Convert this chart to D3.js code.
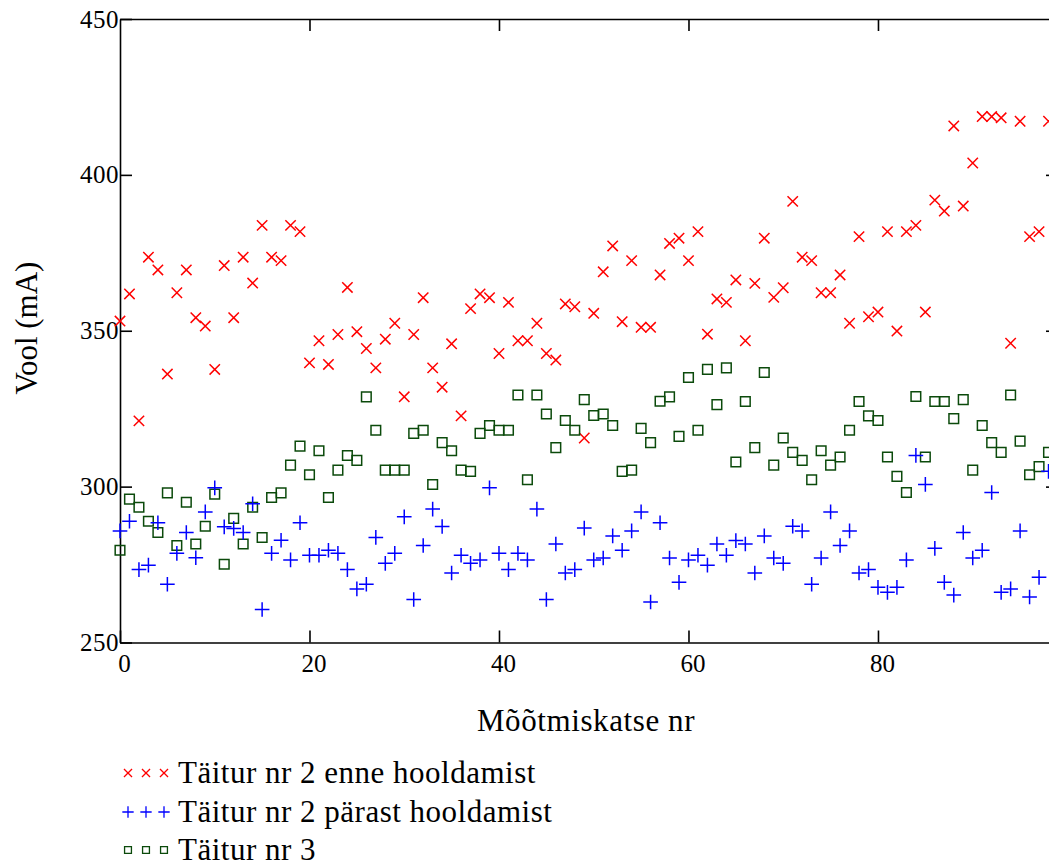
<!DOCTYPE html>
<html>
<head>
<meta charset="utf-8">
<script src="https://cdn.jsdelivr.net/npm/d3@7"></script>
<style>
  body { margin: 0; background: #fff; }
  svg { display: block; }
  text { font-family: "Liberation Serif", "Times New Roman", serif; fill: #000; }
</style>
</head>
<body>
<div id="chart"></div>
<script>
// measurement values (mA), one per trial index 0..98
var enneHooldamist = [
  353.1,361.8,321.1,373.6,369.5,336.1,362.2,369.5,354.2,351.5,
  337.6,370.9,354.2,373.6,365.3,383.8,373.6,372.5,383.8,381.8,
  339.7,346.8,339.2,348.8,363.9,349.7,344.3,338.1,347.3,352.4,
  328.8,348.8,360.6,338.1,331.9,345.8,322.7,357.1,361.8,360.6,
  342.7,359.1,346.8,346.8,352.4,342.7,340.6,358.6,357.7,315.6,
  355.6,368.9,377.2,352.9,372.5,351.1,351.1,367.9,378.0,379.7,
  372.5,381.8,348.9,360.2,359.1,366.3,346.8,365.2,379.7,360.7,
  363.8,391.5,373.6,372.5,362.2,362.2,367.9,352.4,380.2,354.5,
  356.0,381.8,349.9,381.8,383.8,356.0,391.9,388.4,415.7,390.0,
  403.8,418.7,418.7,418.3,346.0,417.2,380.2,381.8,417.2
];
var parastHooldamist = [
  285.8,288.9,273.4,274.8,288.4,268.7,278.6,285.3,277.2,291.9,
  299.6,287.1,286.6,285.3,294.5,260.6,278.6,282.8,276.5,288.4,
  278.0,278.0,279.6,278.6,273.4,267.2,268.7,283.7,275.4,278.6,
  290.3,263.8,281.1,292.8,287.2,272.3,278.0,275.4,276.5,299.6,
  278.6,273.4,278.6,276.5,292.8,263.8,281.6,272.3,273.4,286.7,
  276.5,277.1,284.2,279.6,285.8,291.9,263.0,288.4,277.1,269.3,
  276.5,278.0,274.8,281.6,278.0,282.7,281.6,272.3,284.2,277.1,
  275.4,287.3,285.8,268.7,277.1,291.9,281.1,285.8,272.3,273.4,
  267.7,266.1,267.7,276.5,310.0,300.7,280.2,269.3,265.2,285.3,
  277.1,279.6,298.1,266.1,267.2,285.8,264.6,270.9,304.9
];
var taitur3 = [
  279.6,296.0,293.4,288.9,285.3,298.0,281.1,295.0,281.6,287.3,
  297.6,275.1,289.8,281.6,293.4,283.7,296.5,298.0,306.9,313.0,
  303.8,311.5,296.5,305.3,310.0,308.4,328.8,318.1,305.3,305.3,
  305.3,317.1,318.1,300.7,314.1,311.5,305.3,304.9,317.1,319.6,
  318.1,318.1,329.4,302.2,329.4,323.3,312.5,321.2,318.1,327.9,
  322.8,323.3,319.6,304.9,305.3,318.7,314.1,327.4,328.8,316.1,
  335.0,318.1,337.6,326.3,338.1,307.9,327.3,312.5,336.6,306.9,
  315.6,311.0,308.4,302.2,311.5,306.9,309.5,318.1,327.3,322.7,
  321.2,309.5,303.3,298.1,328.9,309.5,327.3,327.3,321.8,327.9,
  305.3,319.6,314.1,311.0,329.4,314.6,303.8,306.4,311.0
];
var xTicks = [0, 20, 40, 60, 80];
var yTicks = [250, 300, 350, 400, 450];
var legendLabels = ["Täitur nr 2 enne hooldamist", "Täitur nr 2 pärast hooldamist", "Täitur nr 3"];

(function() {
  var width = 1049, height = 867;
  var plotLeft = 120, plotTop = 19, plotRight = 1058, plotBottom = 642.5;

  var svg = d3.select("#chart").append("svg")
      .attr("width", width).attr("height", height);

  var x = d3.scaleLinear().domain([0, 99]).range([plotLeft, plotRight]);
  var y = d3.scaleLinear().domain([250, 450]).range([plotBottom, plotTop]);

  // frame with inward ticks on all four sides
  var gx = svg.append("g").attr("transform", "translate(0," + plotBottom + ")")
      .call(d3.axisBottom(x).tickValues(xTicks).tickSizeInner(-12).tickSizeOuter(0).tickPadding(12));
  var gy = svg.append("g").attr("transform", "translate(" + plotLeft + ",0)")
      .call(d3.axisLeft(y).tickValues(yTicks).tickSizeInner(-12).tickSizeOuter(0).tickPadding(1));
  svg.append("g").attr("transform", "translate(0," + plotTop + ")")
      .call(d3.axisTop(x).tickValues(xTicks.slice(1)).tickSizeInner(-12).tickSizeOuter(0).tickFormat(""));
  svg.append("g").attr("transform", "translate(" + plotRight + ",0)")
      .call(d3.axisRight(y).tickValues(yTicks.slice(1, 4)).tickSizeInner(-12).tickSizeOuter(0).tickFormat(""));

  svg.selectAll(".domain, .tick line").attr("stroke", "#000").attr("stroke-width", 1.6);
  gx.selectAll("text").attr("font-size", 25).attr("dx", 4);
  gy.selectAll("text").attr("font-size", 25).attr("letter-spacing", 0.5);

  // axis titles
  svg.append("text").attr("x", 586).attr("y", 731).attr("text-anchor", "middle")
      .attr("font-size", 31).attr("letter-spacing", 0.6).text("Mõõtmiskatse nr");
  svg.append("text").attr("transform", "translate(37,328) rotate(-90)")
      .attr("text-anchor", "middle").attr("font-size", 31).text("Vool (mA)");

  var series = [
    { values: enneHooldamist, color: "#ff0000", type: d3.symbolTimes, size: 72 },
    { values: taitur3, color: "#0b4a0b", type: d3.symbolSquare2, size: 118 },
    { values: parastHooldamist, color: "#0000ff", type: d3.symbolPlus, size: 72 }
  ];

  series.forEach(function(s) {
    svg.append("g").selectAll("path")
      .data(s.values)
      .join("path")
      .attr("d", d3.symbol().type(s.type).size(s.size))
      .attr("transform", function(d, i) { return "translate(" + x(i) + "," + y(d) + ")"; })
      .attr("fill", "none")
      .attr("stroke", s.color)
      .attr("stroke-width", 1.5);
  });

  // legend
  var legendItems = [
    { label: legendLabels[0], color: "#ff0000", type: d3.symbolTimes, size: 44 },
    { label: legendLabels[1], color: "#0000ff", type: d3.symbolPlus, size: 44 },
    { label: legendLabels[2], color: "#0b4a0b", type: d3.symbolSquare2, size: 60 }
  ];
  var legendY = [773, 812, 850];
  legendItems.forEach(function(item, k) {
    var g = svg.append("g").attr("transform", "translate(0," + legendY[k] + ")");
    [128, 146, 164].forEach(function(mx) {
      g.append("path").attr("d", d3.symbol().type(item.type).size(item.size))
        .attr("transform", "translate(" + mx + ",0)")
        .attr("fill", "none").attr("stroke", item.color).attr("stroke-width", 1.3);
    });
    g.append("text").attr("x", 178).attr("y", 10).attr("font-size", 31).attr("letter-spacing", 0.5).text(item.label);
  });
})();
</script>
</body>
</html>
